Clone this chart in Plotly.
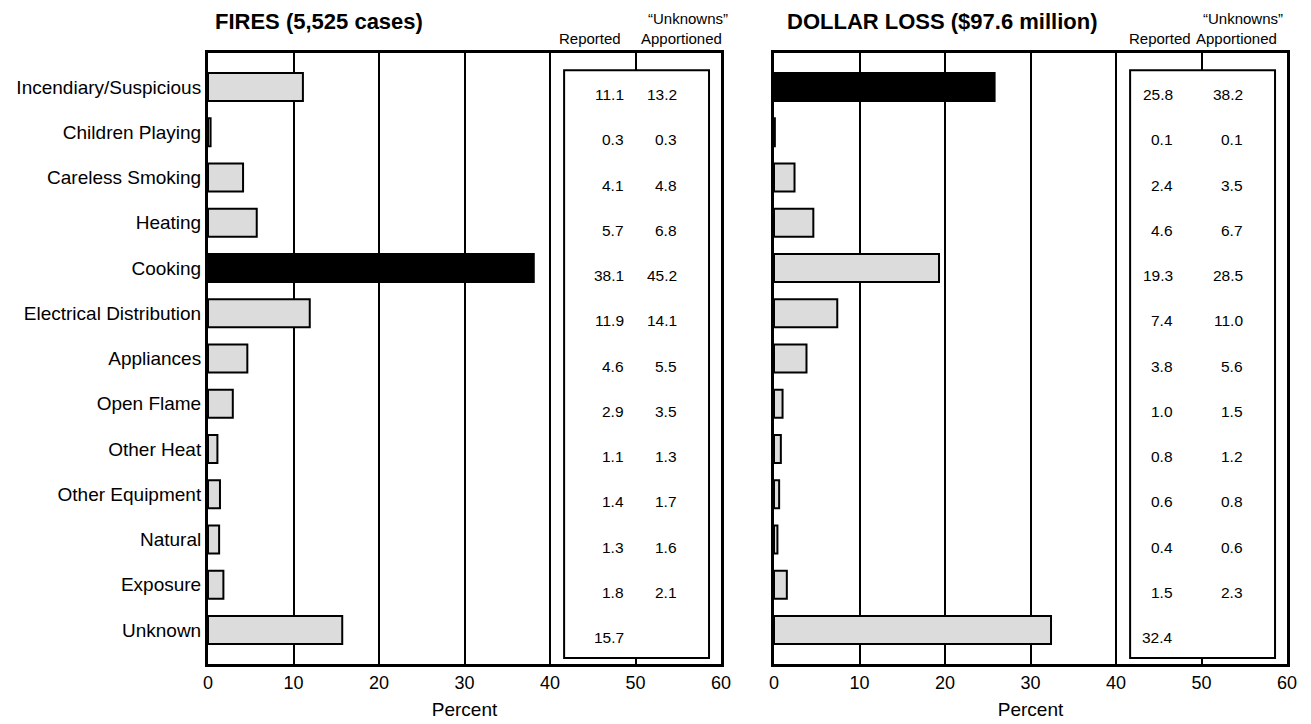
import plotly.graph_objects as go

categories = ["Incendiary/Suspicious", "Children Playing", "Careless Smoking", "Heating",
              "Cooking", "Electrical Distribution", "Appliances", "Open Flame",
              "Other Heat", "Other Equipment", "Natural", "Exposure", "Unknown"]
fires_reported = [11.1, 0.3, 4.1, 5.7, 38.1, 11.9, 4.6, 2.9, 1.1, 1.4, 1.3, 1.8, 15.7]
fires_apportioned = [13.2, 0.3, 4.8, 6.8, 45.2, 14.1, 5.5, 3.5, 1.3, 1.7, 1.6, 2.1, None]
loss_reported = [25.8, 0.1, 2.4, 4.6, 19.3, 7.4, 3.8, 1.0, 0.8, 0.6, 0.4, 1.5, 32.4]
loss_apportioned = [38.2, 0.1, 3.5, 6.7, 28.5, 11.0, 5.6, 1.5, 1.2, 0.8, 0.6, 2.3, None]
x_ticks = [0, 10, 20, 30, 40, 50, 60]
fires_highlight = "Cooking"
loss_highlight = "Incendiary/Suspicious"

FONT = "Liberation Sans Narrow, Arial Narrow, Liberation Sans, Arial, sans-serif"
OFF = 8  # page body margin
W, H = 1311 - OFF, 724 - OFF
GRAY = "#dcdcdc"


def px(x):
    return (x - OFF) / W


def py(y):
    return 1 - (y - OFF) / H


ypos = list(range(len(categories)))

fig = go.Figure()


def colors(hl):
    return ["black" if c == hl else GRAY for c in categories]


fig.add_trace(go.Bar(x=fires_reported, y=ypos, orientation="h", width=0.62,
                     marker=dict(color=colors(fires_highlight), line=dict(color="black", width=2)),
                     xaxis="x", yaxis="y", showlegend=False, hoverinfo="skip"))
fig.add_trace(go.Bar(x=loss_reported, y=ypos, orientation="h", width=0.62,
                     marker=dict(color=colors(loss_highlight), line=dict(color="black", width=2)),
                     xaxis="x2", yaxis="y2", showlegend=False, hoverinfo="skip"))

dom1 = [px(208), px(721)]
dom2 = [px(774), px(1287)]
ydom = [py(664), py(53)]

xcommon = dict(range=[0, 60], tickvals=x_ticks, showgrid=True, gridcolor="black", gridwidth=2,
               showline=True, linecolor="black", linewidth=3, mirror=True, zeroline=False,
               ticks="", ticklabelstandoff=0, tickfont=dict(family=FONT, size=18, color="black"),
               title=dict(text="Percent", font=dict(family=FONT, size=19, color="black"), standoff=12),
               automargin=False, fixedrange=True)
ycommon = dict(range=[12.75, -0.75], showgrid=False, showline=True, linecolor="black", linewidth=3,
               mirror=True, zeroline=False, ticks="", automargin=False, fixedrange=True)

fig.update_layout(
    width=W, height=H, margin=dict(l=0, r=0, t=0, b=0),
    plot_bgcolor="white", paper_bgcolor="white", bargap=0.3,
    xaxis=dict(domain=dom1, anchor="y", **xcommon),
    xaxis2=dict(domain=dom2, anchor="y2", **xcommon),
    yaxis=dict(domain=ydom, anchor="x", tickvals=ypos, ticktext=categories,
               ticklabelstandoff=0, tickfont=dict(family=FONT, size=19, color="black"), **ycommon),
    yaxis2=dict(domain=ydom, anchor="x2", tickvals=ypos, showticklabels=False, **ycommon),
)

shapes = []
annotations = []
for xr, yr, rep, app, xrep in [("x", "y", fires_reported, fires_apportioned, 48.9),
                               ("x2", "y2", loss_reported, loss_apportioned, 46.9)]:
    shapes.append(dict(type="rect", xref=xr, yref=yr, x0=41.65, x1=58.6, y0=-0.37, y1=12.62,
                       fillcolor="white", line=dict(color="black", width=2), layer="above"))
    for i, (r, a) in enumerate(zip(rep, app)):
        annotations.append(dict(xref=xr, yref=yr, x=xrep, y=i + 0.17, text=f"{r:.1f}", showarrow=False,
                                xanchor="right", font=dict(family=FONT, size=15.5, color="black")))
        if a is not None:
            annotations.append(dict(xref=xr, yref=yr, x=55.1, y=i + 0.17, text=f"{a:.1f}", showarrow=False,
                                    xanchor="right", font=dict(family=FONT, size=15.5, color="black")))

hdr_font = dict(family=FONT, size=15, color="black")
for xrep_px, xunk_px in [(590, 688), (1160, 1243)]:
    annotations.append(dict(xref="paper", yref="paper", x=px(xrep_px), y=py(38), text="Reported",
                            showarrow=False, xanchor="center", yanchor="middle", font=hdr_font))
    annotations.append(dict(xref="paper", yref="paper", x=px(xunk_px), y=py(18), text="\u201cUnknowns\u201d",
                            showarrow=False, xanchor="center", yanchor="middle", font=hdr_font))
    annotations.append(dict(xref="paper", yref="paper", x=px(xunk_px - 7), y=py(38), text="Apportioned",
                            showarrow=False, xanchor="center", yanchor="middle", font=hdr_font))

title_font = dict(family=FONT, size=22, color="black")
annotations.append(dict(xref="paper", yref="paper", x=px(213), y=py(22), text="<b>FIRES (5,525 cases)</b>",
                        showarrow=False, xanchor="left", yanchor="middle", font=title_font))
annotations.append(dict(xref="paper", yref="paper", x=px(785), y=py(22), text="<b>DOLLAR LOSS ($97.6 million)</b>",
                        showarrow=False, xanchor="left", yanchor="middle", font=title_font))

fig.update_layout(shapes=shapes, annotations=annotations)
fig.write_html("out.html")
